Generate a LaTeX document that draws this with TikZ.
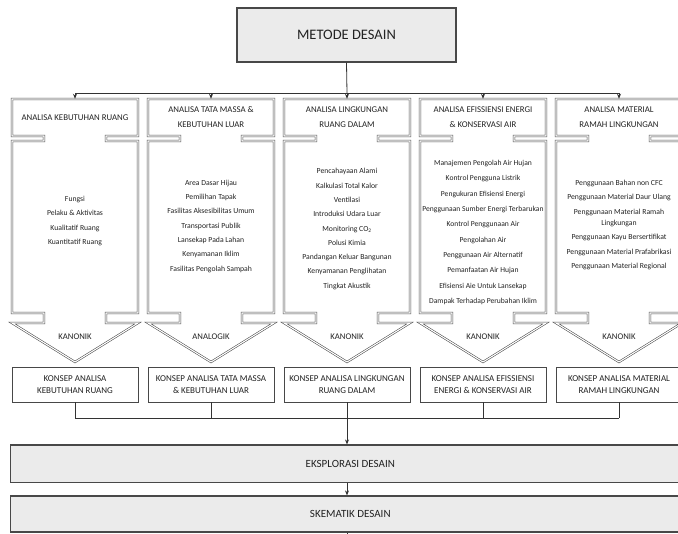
\documentclass[tikz,border=0pt]{standalone}
\usepackage{fontspec}
\setmainfont{Carlito}
\usetikzlibrary{arrows.meta}
\definecolor{edge}{HTML}{484848}
\definecolor{boxfill}{HTML}{EBEBEB}
\definecolor{ink}{HTML}{222222}
\begin{document}
\begin{tikzpicture}[x=1pt,y=-1pt,
  colshape/.style={draw=edge, double=white, line width=0.55pt, double distance=1.1pt, line join=miter},
  title/.style={draw=edge, line width=1.4pt, fill=boxfill, minimum width=219pt, minimum height=54pt, inner sep=0pt, text=ink, font=\fontsize{14.5}{16}\selectfont},
  hdr/.style={minimum width=126pt, minimum height=37pt, inner sep=0pt, align=center, text=ink, font=\fontsize{8.8}{15}\selectfont},
  items/.style={inner sep=0pt, align=center, text=ink, font=\fontsize{7.7}{14.3}\selectfont},
  lbl/.style={inner sep=0pt, text=ink, font=\fontsize{8.7}{10}\selectfont},
  konsep/.style={draw=edge, line width=0.9pt, fill=white, minimum width=126pt, minimum height=35pt, inner sep=0pt, align=center, text=ink, font=\fontsize{9}{11.7}\selectfont},
  wide/.style={draw=edge, line width=1.2pt, fill=boxfill, minimum width=679pt, inner sep=0pt, text=ink, font=\fontsize{11}{13}\selectfont},
  conn/.style={draw=black!80, line width=0.8pt},
  arr/.style={conn, -{Stealth[length=5pt,width=4pt]}}
]
\useasboundingbox (0,0) rectangle (678,534);

% column block-arrow shapes
\foreach \c in {75,211,347,483,619} {
  \draw[colshape] (\c-63,99) -- (\c+63,99) -- (\c+63,136) -- (\c+31,136) -- (\c+31,141) -- (\c+63,141)
    -- (\c+63,313) -- (\c+31,313) -- (\c+31,323) -- (\c+63,323) -- (\c,362) -- (\c-63,323)
    -- (\c-31,323) -- (\c-31,313) -- (\c-63,313) -- (\c-63,141) -- (\c-31,141) -- (\c-31,136)
    -- (\c-63,136) -- cycle;
}

\node[title] (metode) at (346.5,35) {METODE DESAIN};

% headers
\node[hdr] (h1) at (75,117.5) {ANALISA KEBUTUHAN RUANG};
\node[hdr] (h2) at (211,117.5) {ANALISA TATA MASSA \&\\KEBUTUHAN LUAR};
\node[hdr] (h3) at (347,117.5) {ANALISA LINGKUNGAN\\RUANG DALAM};
\node[hdr] (h4) at (483,117.5) {ANALISA EFISSIENSI ENERGI\\\& KONSERVASI AIR};
\node[hdr] (h5) at (619,117.5) {ANALISA MATERIAL\\RAMAH LINGKUNGAN};

% item lists
\node[items] (l1) at (75,221) {Fungsi\\Pelaku \& Aktivitas\\Kualitatif Ruang\\Kuantitatif Ruang};
\node[items] (l2) at (211,226.3) {Area Dasar Hijau\\Pemilihan Tapak\\Fasilitas Aksesibilitas Umum\\Transportasi Publik\\Lansekap Pada Lahan\\Kenyamanan Iklim\\Fasilitas Pengolah Sampah};
\node[items] (l3) at (347,229) {Pencahayaan Alami\\Kalkulasi Total Kalor\\Ventilasi\\Introduksi Udara Luar\\Monitoring CO\textsubscript{2}\\Polusi Kimia\\Pandangan Keluar Bangunan\\Kenyamanan Penglihatan\\Tingkat Akustik};
\node[items, font=\fontsize{7.6}{15.3}\selectfont] (l4) at (483,232.5) {Manajemen Pengolah Air Hujan\\Kontrol Pengguna Listrik\\Pengukuran Efisiensi Energi\\Penggunaan Sumber Energi Terbarukan\\Kontrol Penggunaan Air\\Pengolahan Air\\Penggunaan Air Alternatif\\Pemanfaatan Air Hujan\\Efisiensi Aie Untuk Lansekap\\Dampak Terhadap Perubahan Iklim};
\node[items] (l5) at (619,225) {Penggunaan Bahan non CFC\\Penggunaan Material Daur Ulang\\Penggunaan Material Ramah\\[-3pt]Lingkungan\\Penggunaan Kayu Bersertifikat\\Penggunaan Material Prafabrikasi\\Penggunaan Material Regional};

% method labels
\node[lbl] (m1) at (75,337) {KANONIK};
\node[lbl] (m2) at (211,337) {ANALOGIK};
\node[lbl] (m3) at (347,337) {KANONIK};
\node[lbl] (m4) at (483,337) {KANONIK};
\node[lbl] (m5) at (619,337) {KANONIK};

% concept boxes
\node[konsep] (k1) at (75,384.5) {KONSEP ANALISA\\KEBUTUHAN RUANG};
\node[konsep] (k2) at (211,384.5) {KONSEP ANALISA TATA MASSA\\\& KEBUTUHAN LUAR};
\node[konsep] (k3) at (347,384.5) {KONSEP ANALISA LINGKUNGAN\\RUANG DALAM};
\node[konsep] (k4) at (483,384.5) {KONSEP ANALISA EFISSIENSI\\ENERGI \& KONSERVASI AIR};
\node[konsep] (k5) at (619,384.5) {KONSEP ANALISA MATERIAL\\RAMAH LINGKUNGAN};

% bottom boxes
\node[wide, minimum height=37.7pt] (eks) at (350.3,463.9) {EKSPLORASI DESAIN};
\node[wide, minimum height=36pt] (skm) at (350.3,514) {SKEMATIK DESAIN};

% top connectors
\coordinate (top) at (347,93);
\draw[conn] (metode.south) -- (top);
\draw[conn] (top -| h1.north) -- (top -| h5.north);
\foreach \n in {1,...,5} \draw[arr] (top -| h\n.north) -- (h\n.north);

% bottom connectors
\coordinate (bot) at (347,418);
\foreach \n in {1,...,5} \draw[conn] (k\n.south) -- (k\n.south |- bot);
\draw[conn] (bot -| k1.south) -- (bot -| k5.south);
\draw[arr] (bot) -- (bot |- eks.north);
\draw[arr] (eks.south -| bot) -- (skm.north -| bot);
\draw[conn] (skm.south -| bot) -- ++(0,10);
\end{tikzpicture}
\end{document}
